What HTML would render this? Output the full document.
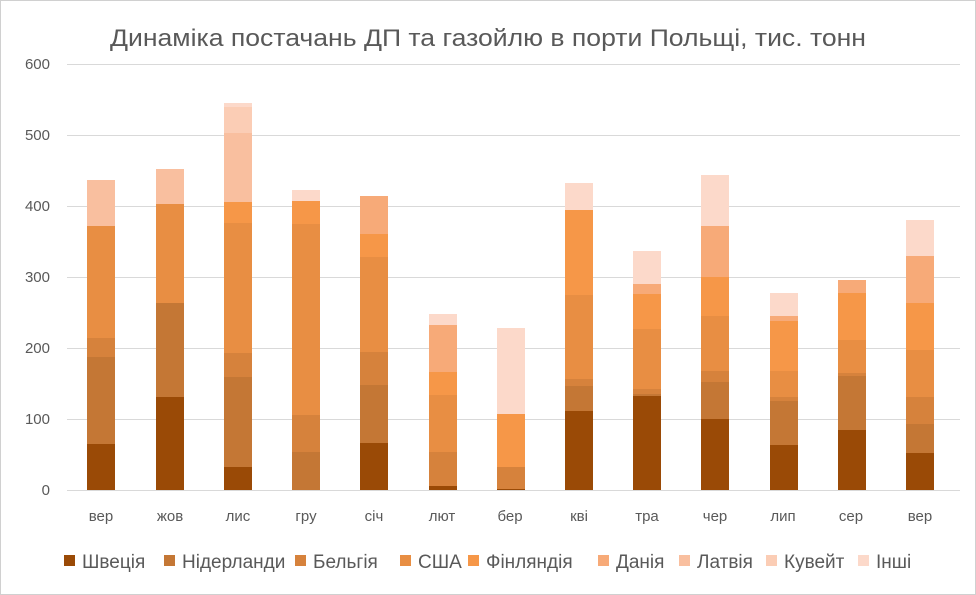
<!DOCTYPE html>
<html><head><meta charset="utf-8"><style>
body{margin:0;background:#fff}
svg{display:block;font-family:"Liberation Sans","DejaVu Sans",sans-serif}
</style></head><body>
<svg width="976" height="595" viewBox="0 0 976 595">
<rect x="0.5" y="0.5" width="975" height="594" fill="#fff" stroke="#d0d0d0"/>
<text x="110" y="46" font-size="24" fill="#595959" textLength="756" lengthAdjust="spacingAndGlyphs">Динаміка постачань ДП та газойлю в порти Польщі, тис. тонн</text>
<g stroke="#d9d9d9" stroke-width="1">
<line x1="67" x2="960" y1="64.5" y2="64.5"/><line x1="67" x2="960" y1="135.5" y2="135.5"/>
<line x1="67" x2="960" y1="206.5" y2="206.5"/><line x1="67" x2="960" y1="277.5" y2="277.5"/>
<line x1="67" x2="960" y1="348.5" y2="348.5"/><line x1="67" x2="960" y1="419.5" y2="419.5"/>
<line x1="67" x2="960" y1="490.5" y2="490.5"/>
</g>
<g font-size="15" fill="#595959" text-anchor="end">
<text x="50" y="69">600</text><text x="50" y="140">500</text><text x="50" y="211">400</text>
<text x="50" y="282">300</text><text x="50" y="353">200</text><text x="50" y="424">100</text><text x="50" y="495">0</text>
</g>
<g id="bars"></g>
<g font-size="15" fill="#595959" text-anchor="middle">
<text x="101" y="521">вер</text><text x="170" y="521">жов</text><text x="238" y="521">лис</text>
<text x="306" y="521">гру</text><text x="374" y="521">січ</text><text x="442" y="521">лют</text>
<text x="510" y="521">бер</text><text x="579" y="521">кві</text><text x="647" y="521">тра</text>
<text x="715" y="521">чер</text><text x="783" y="521">лип</text><text x="851" y="521">сер</text><text x="920" y="521">вер</text>
</g>
<g font-size="19" fill="#595959">
<rect x="64" y="555" width="11" height="11" fill="#9a4a06"/><text x="82" y="568">Швеція</text>
<rect x="164" y="555" width="11" height="11" fill="#c47735"/><text x="182" y="568">Нідерланди</text>
<rect x="295" y="555" width="11" height="11" fill="#d6823c"/><text x="313" y="568">Бельгія</text>
<rect x="400" y="555" width="11" height="11" fill="#e88e43"/><text x="418" y="568">США</text>
<rect x="468" y="555" width="11" height="11" fill="#f69748"/><text x="486" y="568">Фінляндія</text>
<rect x="598" y="555" width="11" height="11" fill="#f7aa78"/><text x="616" y="568">Данія</text>
<rect x="679" y="555" width="11" height="11" fill="#f9bf9f"/><text x="697" y="568">Латвія</text>
<rect x="766" y="555" width="11" height="11" fill="#fbcdb5"/><text x="784" y="568">Кувейт</text>
<rect x="858" y="555" width="11" height="11" fill="#fcd9ca"/><text x="876" y="568">Інші</text>
</g>
</svg>
<script>
var C={s:"#9a4a06",n:"#c47735",b:"#d6823c",u:"#e88e43",f:"#f69748",d:"#f7aa78",l:"#f9bf9f",k:"#fbcdb5",i:"#fcd9ca"};
var B=[
[87,[["s",444],["n",357],["b",338],["u",226],["l",180]]],
[156,[["s",397],["n",303],["u",204],["l",169]]],
[224,[["s",467],["n",377],["b",353],["u",223],["f",202],["l",133],["k",107],["i",103]]],
[292,[["n",452],["b",415],["u",224],["f",201],["i",190]]],
[360,[["s",443],["n",385],["b",352],["u",257],["f",234],["d",196]]],
[429,[["s",486],["b",452],["u",395],["f",372],["d",325],["i",314]]],
[497,[["s",489],["b",467],["f",414],["i",328]]],
[565,[["s",411],["n",386],["b",379],["u",295],["f",210],["i",183]]],
[633,[["s",396],["n",394],["b",389],["u",329],["f",294],["d",284],["i",251]]],
[701,[["s",419],["n",382],["b",371],["u",316],["f",277],["d",226],["i",175]]],
[770,[["s",445],["n",401],["b",397],["u",371],["f",321],["d",316],["i",293]]],
[838,[["s",430],["n",376],["b",373],["u",340],["f",293],["d",280]]],
[906,[["s",453],["n",424],["b",397],["u",350],["f",303],["d",256],["i",220]]]];
var g=document.getElementById("bars"),ns="http://www.w3.org/2000/svg";
B.forEach(function(b){var y0=490;b[1].forEach(function(s){var r=document.createElementNS(ns,"rect");
r.setAttribute("x",b[0]);r.setAttribute("width",28);r.setAttribute("y",s[1]);r.setAttribute("height",y0-s[1]);
r.setAttribute("fill",C[s[0]]);g.appendChild(r);y0=s[1];});});
</script>
</body></html>
